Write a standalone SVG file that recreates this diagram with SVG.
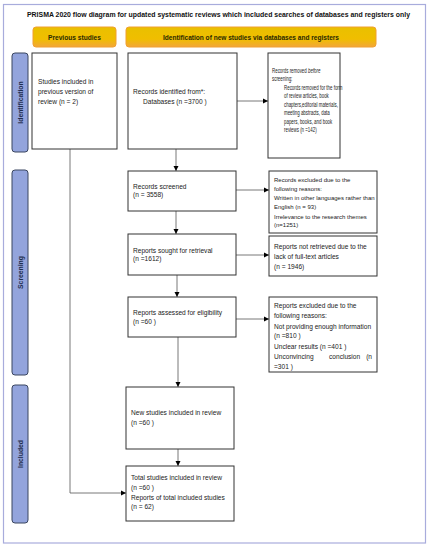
<svg xmlns="http://www.w3.org/2000/svg" width="430" height="550" viewBox="0 0 430 550">
<defs>
<linearGradient id="hdr" x1="0" y1="0" x2="0" y2="1">
<stop offset="0" stop-color="#E9C000"/>
<stop offset="0.6" stop-color="#F0BE00"/>
<stop offset="1" stop-color="#F2A63A"/>
</linearGradient>
<marker id="arr" markerWidth="6" markerHeight="6" refX="5" refY="3" orient="auto" markerUnits="userSpaceOnUse">
<path d="M0,0.5 L5,3 L0,5.5 Z" fill="#000"/>
</marker>
<style>
.box{fill:#fff;stroke:#333;stroke-width:1}
.hdr{fill:url(#hdr);stroke:#F0A030;stroke-width:1}
.side{fill:#93A4DC;stroke:#3A4660;stroke-width:1}
.t{font-family:"Liberation Sans",Arial,sans-serif;font-size:6.6px;fill:#222}
.ts{font-family:"Liberation Sans",Arial,sans-serif;font-size:6px;fill:#222}
.tn{font-family:"Liberation Sans",Arial,sans-serif;font-size:6.4px;fill:#222}
.h{font-family:"Liberation Sans",Arial,sans-serif;font-size:6.8px;font-weight:bold;fill:#2a2a00}
.sl{font-family:"Liberation Sans",Arial,sans-serif;font-size:6.8px;font-weight:bold;fill:#1F2E4E}
.ln{fill:none;stroke:#555;stroke-width:0.8}
</style>
</defs>
<rect x="0" y="0" width="430" height="550" fill="#fff"/>
<rect x="3.5" y="4.5" width="422" height="538.5" fill="none" stroke="#A8ACDC" stroke-width="1.2"/>
<text x="27" y="17" class="h" style="font-size:6.9px;fill:#111" textLength="383" lengthAdjust="spacingAndGlyphs">PRISMA 2020 flow diagram for updated systematic reviews which included searches of databases and registers only</text>

<g id="hdr-previous">
<rect class="hdr" x="33" y="27" width="83" height="20" rx="3"/>
<text class="h" x="48" y="39.5" textLength="53" lengthAdjust="spacingAndGlyphs">Previous studies</text>
</g>
<g id="hdr-identification">
<rect class="hdr" x="126" y="27" width="250" height="20" rx="3"/>
<text class="h" x="163" y="39.5" textLength="176" lengthAdjust="spacingAndGlyphs">Identification of new studies via databases and registers</text>
</g>

<g id="side-identification">
<rect class="side" x="12" y="53" width="16" height="99" rx="3"/>
<text class="sl" transform="translate(22.5,102.5) rotate(-90)" text-anchor="middle">Identification</text>
</g>
<g id="side-screening">
<rect class="side" x="12" y="170" width="16" height="205" rx="3"/>
<text class="sl" transform="translate(22.5,272.5) rotate(-90)" text-anchor="middle">Screening</text>
</g>
<g id="side-included">
<rect class="side" x="12" y="385" width="16" height="138" rx="3"/>
<text class="sl" transform="translate(22.5,454) rotate(-90)" text-anchor="middle">Included</text>
</g>

<g id="connectors">
<line class="ln" x1="70" y1="149" x2="70" y2="493"/>
<line class="ln" x1="70" y1="493" x2="126" y2="493" marker-end="url(#arr)"/>
<line class="ln" x1="237" y1="101" x2="268" y2="101" marker-end="url(#arr)"/>
<line class="ln" x1="176" y1="149" x2="176" y2="171" marker-end="url(#arr)"/>
<line class="ln" x1="236" y1="190" x2="269" y2="190" marker-end="url(#arr)"/>
<line class="ln" x1="176" y1="211" x2="176" y2="234" marker-end="url(#arr)"/>
<line class="ln" x1="236" y1="255" x2="269" y2="255" marker-end="url(#arr)"/>
<line class="ln" x1="177" y1="275" x2="177" y2="297" marker-end="url(#arr)"/>
<line class="ln" x1="236" y1="319" x2="269" y2="319" marker-end="url(#arr)"/>
<line class="ln" x1="178" y1="337" x2="178" y2="387" marker-end="url(#arr)"/>
<line class="ln" x1="178" y1="449" x2="178" y2="466" marker-end="url(#arr)"/>
</g>

<g id="previous-studies">
<rect class="box" x="32" y="53" width="85" height="96"/>
<text class="t" x="38" y="84">Studies included in</text>
<text class="t" x="38" y="94">previous version of</text>
<text class="t" x="38" y="104">review (n = 2)</text>
</g>

<g id="records-identified">
<rect class="box" x="128" y="53" width="109" height="96"/>
<text class="t" x="133" y="94">Records identified from*:</text>
<text class="t" x="143" y="104">Databases (n =3700 )</text>
</g>

<g id="records-removed">
<rect class="box" x="268" y="53" width="72" height="105"/>
<g transform="translate(272,0) scale(0.69,1)">
<text class="tn" x="0" y="73">Records removed <tspan font-style="italic">before</tspan></text>
<text class="tn" x="0" y="81.5">screening:</text>
<text class="tn" x="17.4" y="90">Records removed for the form</text>
<text class="tn" x="17.4" y="98.5">of review articles, book</text>
<text class="tn" x="17.4" y="107">chapters,editorial materials,</text>
<text class="tn" x="17.4" y="115.5">meeting abstracts, data</text>
<text class="tn" x="17.4" y="124">papers, books, and book</text>
<text class="tn" x="17.4" y="132.5">reviews (n =142)</text>
</g>
</g>

<g id="records-screened">
<rect class="box" x="128" y="171" width="108" height="40"/>
<text class="t" x="133" y="189">Records screened</text>
<text class="t" x="133" y="197">(n = 3558)</text>
</g>

<g id="records-excluded">
<rect class="box" x="269" y="171" width="108" height="62"/>
<text class="ts" x="274" y="182">Records excluded due to the</text>
<text class="ts" x="274" y="191">following reasons:</text>
<text class="ts" x="274" y="200">Written in other languages rather than</text>
<text class="ts" x="274" y="209">English (n = 93)</text>
<text class="ts" x="274" y="218.5">Irrelevance to the research themes</text>
<text class="ts" x="274" y="227">(n=1251)</text>
</g>

<g id="reports-sought">
<rect class="box" x="128" y="234" width="108" height="41"/>
<text class="t" x="133" y="253">Reports sought for retrieval</text>
<text class="t" x="133" y="261">(n =1612)</text>
</g>

<g id="reports-not-retrieved">
<rect class="box" x="269" y="236" width="108" height="40"/>
<text class="t" x="274" y="248.5">Reports not retrieved due to the</text>
<text class="t" x="274" y="258.5">lack of full-text articles</text>
<text class="t" x="274" y="268.5">(n = 1946)</text>
</g>

<g id="reports-assessed">
<rect class="box" x="128" y="297" width="108" height="40"/>
<text class="t" x="133" y="315">Reports assessed for eligibility</text>
<text class="t" x="133" y="324">(n =60 )</text>
</g>

<g id="reports-excluded">
<rect class="box" x="269" y="297" width="108" height="75"/>
<text class="t" x="274" y="308">Reports excluded due to the</text>
<text class="t" x="274" y="318">following reasons:</text>
<text class="t" x="274" y="329">Not providing enough information</text>
<text class="t" x="274" y="338">(n =810 )</text>
<text class="t" x="274" y="349">Unclear results (n =401 )</text>
<text class="t" x="274" y="359">Unconvincing</text>
<text class="t" x="329" y="359">conclusion</text>
<text class="t" x="372" y="359" text-anchor="end">(n</text>
<text class="t" x="274" y="369">=301 )</text>
</g>

<g id="new-studies">
<rect class="box" x="126" y="387" width="108" height="62"/>
<text class="t" x="131" y="415">New studies included in review</text>
<text class="t" x="131" y="425">(n =60 )</text>
</g>

<g id="total-studies">
<rect class="box" x="126" y="466" width="108" height="55"/>
<text class="t" x="131" y="480">Total studies included in review</text>
<text class="t" x="131" y="490">(n =60 )</text>
<text class="t" x="131" y="500">Reports of total included studies</text>
<text class="t" x="131" y="509">(n = 62)</text>
</g>
</svg>
